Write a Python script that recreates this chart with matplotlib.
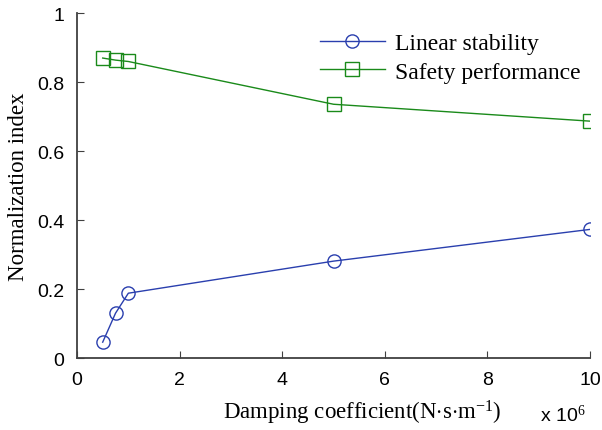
import matplotlib
matplotlib.use('Agg')
import matplotlib.pyplot as plt

# damping coefficient (x 1e6 N.s/m)
damping = [0.5, 0.75, 1.0, 5.0, 10.0]
linear_stability = [0.046, 0.13, 0.188, 0.281, 0.373]
safety_perf = [0.870, 0.864, 0.860, 0.736, 0.687]

plt.rcParams['mathtext.fontset'] = 'custom'
plt.rcParams['mathtext.rm'] = 'Liberation Serif'
plt.rcParams['mathtext.it'] = 'Liberation Serif'

fig = plt.figure(figsize=(6.02, 4.31), dpi=100)
ax = fig.add_axes([0.128, 0.167, 0.852, 0.800])

ax.plot(damping, linear_stability, color='#2a3fae', lw=1.0, marker='o',
        ms=9.5, mfc='none', mew=1.0, label='Linear stability')
ax.plot(damping, safety_perf, color='#1a8a1a', lw=1.0, marker='s',
        ms=9.5, mfc='none', mew=1.0, label='Safety performance')

ax.set_xlim(0, 10)
ax.set_ylim(0, 1)
ax.set_xticks([0, 2, 4, 6, 8, 10])
ax.set_yticks([0, 0.2, 0.4, 0.6, 0.8, 1])
ax.set_yticklabels(['0', '0.2', '0.4', '0.6', '0.8', '1'])

for s in ['top', 'right']:
    ax.spines[s].set_visible(False)
for s in ['left', 'bottom']:
    ax.spines[s].set_color('#404040')
    ax.spines[s].set_linewidth(1.3)
ax.tick_params(direction='in', length=5, color='#404040',
               labelsize=14, pad=9)
for lab in ax.get_xticklabels() + ax.get_yticklabels():
    lab.set_fontfamily('Liberation Sans')

ax.set_xlabel('Damping coefficient(N$\\cdot$s$\\cdot$m$^{\\mathrm{-1}}$)',
              fontfamily='Liberation Serif', fontsize=16.5)
ax.xaxis.set_label_coords(0.556, -0.115)
ax.set_ylabel('Normalization index', fontfamily='Liberation Serif',
              fontsize=16.5, labelpad=6)

fig.text(0.897, 0.021, 'x 10$^{6}$', fontfamily='Liberation Sans', fontsize=14)

leg = ax.legend(loc='upper right', bbox_to_anchor=(1.024, 1.006), frameon=False,
                prop={'family': 'Liberation Serif', 'size': 17},
                handlelength=2.75, handletextpad=0.45, labelspacing=0.3)

fig.savefig('out.png', dpi=100)
